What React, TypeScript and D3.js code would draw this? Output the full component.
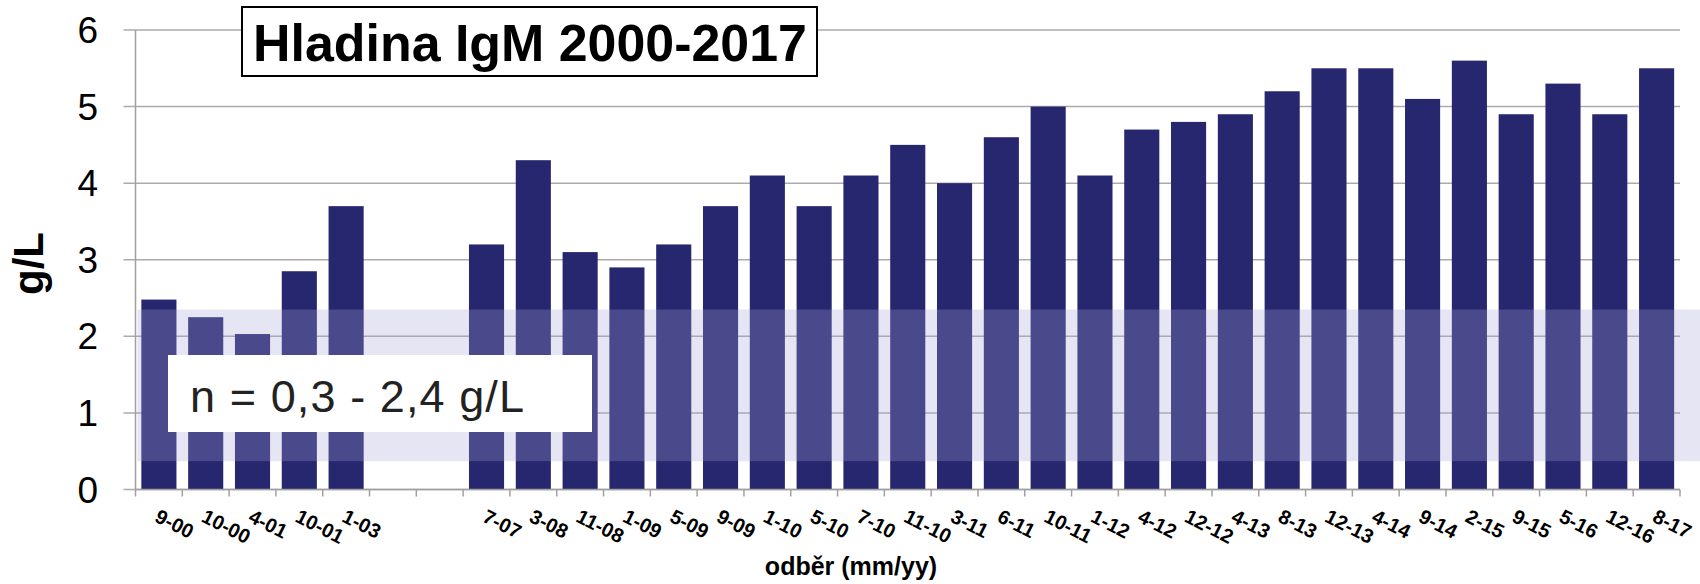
import React from "react";
import * as d3 from "d3";

const categories: string[] = [
  "9-00", "10-00", "4-01", "10-01", "1-03", "", "",
  "7-07", "3-08", "11-08", "1-09", "5-09", "9-09", "1-10", "5-10", "7-10", "11-10",
  "3-11", "6-11", "10-11", "1-12", "4-12", "12-12", "4-13", "8-13", "12-13", "4-14",
  "9-14", "2-15", "9-15", "5-16", "12-16", "8-17",
];
const values: (number | null)[] = [
  2.48, 2.25, 2.03, 2.85, 3.7, null, null,
  3.2, 4.3, 3.1, 2.9, 3.2, 3.7, 4.1, 3.7, 4.1, 4.5,
  4.0, 4.6, 5.0, 4.1, 4.7, 4.8, 4.9, 5.2, 5.5, 5.5,
  5.1, 5.6, 4.9, 5.3, 4.9, 5.5,
];
const yTicks: number[] = [0, 1, 2, 3, 4, 5, 6];
const normalRange: [number, number] = [0.37, 2.35];
const title = "Hladina IgM 2000-2017";
const rangeLabel = "n = 0,3 - 2,4 g/L";
const yTitle = "g/L";
const xTitle = "odběr (mm/yy)";

const W = 1700;
const H = 584;
const left = 135.5;
const right = 1680;
const top = 30;
const bottom = 489.5;
const font = "'Liberation Sans', Arial, sans-serif";

export default function App() {
  const idx = categories.map((_, i) => String(i));
  const x = d3.scaleBand<string>().domain(idx).range([left, right]).paddingInner(0.25).paddingOuter(0.125);
  const y = d3.scaleLinear().domain([0, 6]).range([bottom, top]);
  const step = x.step();
  const bandStart = left;

  return (
    <svg width={W} height={H} style={{ position: "absolute", left: 0, top: 0, background: "#fff" }} fontFamily={font}>
      {/* gridlines */}
      {yTicks.map((t) => (
        <line key={"g" + t} x1={left - 12} x2={right} y1={y(t)} y2={y(t)} stroke="#ababab" strokeWidth={1.5} />
      ))}
      {/* y axis */}
      <line x1={left} x2={left} y1={top} y2={bottom} stroke="#a0a0a0" strokeWidth={1.5} />
      {/* bars */}
      {values.map((v, i) =>
        v == null ? null : (
          <rect key={"b" + i} x={x(String(i))!} width={x.bandwidth()} y={y(v)} height={y(0) - y(v)} fill="#272770" />
        )
      )}
      {/* normal range band */}
      <rect x={bandStart + 2} width={W - bandStart - 2} y={y(normalRange[1])} height={y(normalRange[0]) - y(normalRange[1])}
        fill="rgb(160,160,215)" fillOpacity={0.28} />
      {/* x axis */}
      <line x1={left} x2={right} y1={bottom} y2={bottom} stroke="#a0a0a0" strokeWidth={1.5} />
      {d3.range(categories.length + 1).map((i) => (
        <line key={"t" + i} x1={left + i * step} x2={left + i * step} y1={bottom} y2={bottom + 7} stroke="#a0a0a0" strokeWidth={1.5} />
      ))}
      {/* y tick labels */}
      {yTicks.map((t) => (
        <text key={"yl" + t} x={98} y={y(t) + 13} textAnchor="end" fontSize={37} fill="#000">{t}</text>
      ))}
      {/* x tick labels */}
      {categories.map((c, i) =>
        c === "" ? null : (
          <text key={"xl" + i} transform={`translate(${x(String(i))! + x.bandwidth() / 2 + 1},${bottom + 19}) rotate(27)`}
            x={0} y={14} fontSize={20} fontWeight="bold" fill="#000">{c}</text>
        )
      )}
      {/* y title */}
      <text transform={`translate(43,263.5) rotate(-90)`} textAnchor="middle" fontSize={42} fontWeight="bold" fill="#000">{yTitle}</text>
      {/* x title */}
      <text x={851} y={575} textAnchor="middle" fontSize={25} fontWeight="bold" fill="#000">{xTitle}</text>
      {/* title box */}
      <rect x={242} y={7} width={575} height={69} fill="#fff" stroke="#000" strokeWidth={2} />
      <text x={253} y={61} fontSize={52} fontWeight="bold" fill="#000" textLength={554} lengthAdjust="spacingAndGlyphs">{title}</text>
      {/* range label box */}
      <rect x={168} y={355} width={424} height={77} fill="#fff" />
      <text x={190} y={412} fontSize={45} fill="#222" textLength={334} lengthAdjust="spacing">{rangeLabel}</text>
    </svg>
  );
}
